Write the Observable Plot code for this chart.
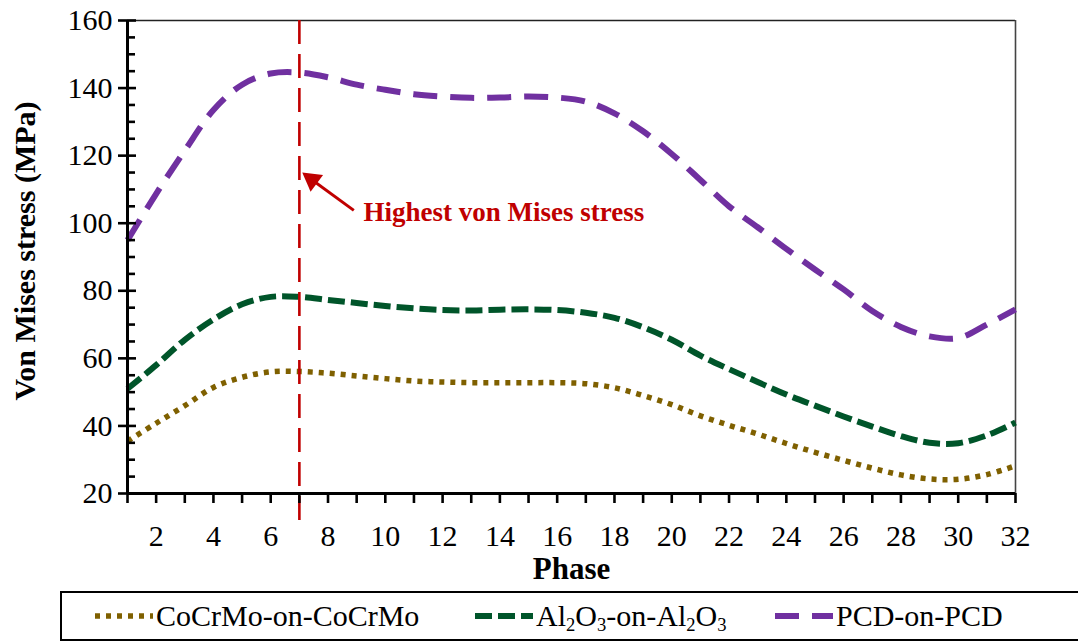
<!DOCTYPE html>
<html>
<head>
<meta charset="utf-8">
<script src="https://cdn.jsdelivr.net/npm/d3@7"></script>
<script src="https://cdn.jsdelivr.net/npm/@observablehq/plot@0.6"></script>
<style>
  html, body { margin: 0; padding: 0; background: #fff; overflow: hidden; }
  body { width: 1078px; height: 641px; position: relative; font-family: "Liberation Serif", "Times New Roman", serif; }
  #legend {
    position: absolute; left: 60px; top: 591px; width: 1040px; height: 46px;
    border: 2px solid #000; box-sizing: content-box; font-size: 30px; color: #000;
  }
  .item { position: absolute; top: 0; height: 46px; display: flex; align-items: center; white-space: nowrap; }
  .item svg { margin-right: 3px; }
  sub { font-size: 0.62em; vertical-align: -0.25em; line-height: 0; }
</style>
</head>
<body>
<div id="chart"></div>
<div id="legend"></div>
<script>
// ---- data ----
const phases = d3.range(1, 33);
const cocrmo = [35.5, 40.8, 46.0, 51.4, 54.4, 56.0, 56.1, 55.6, 54.8, 54.0, 53.3, 53.0, 52.8, 52.8, 52.8, 52.8,
                52.5, 51.3, 49.0, 46.3, 43.0, 40.2, 37.6, 34.8, 32.2, 29.8, 27.5, 25.5, 24.3, 24.2, 25.6, 28.2];
const al2o3  = [51.0, 58.0, 65.5, 71.5, 76.0, 78.2, 78.2, 77.3, 76.4, 75.5, 74.8, 74.3, 74.2, 74.4, 74.5, 74.3,
                73.5, 72.0, 69.2, 65.5, 60.8, 56.8, 53.0, 49.3, 46.0, 42.8, 39.8, 37.0, 35.0, 34.9, 37.2, 41.0];
const pcd    = [95.0, 108.7, 121.5, 133.5, 141.0, 144.3, 144.6, 143.2, 141.0, 139.5, 138.2, 137.5, 137.1, 137.2, 137.5, 137.2,
                136.0, 132.5, 127.2, 120.5, 112.8, 105.0, 98.8, 92.4, 86.3, 80.4, 74.0, 69.3, 66.5, 66.0, 70.0, 74.5];
const seriesNames = ["CoCrMo-on-CoCrMo", "Al2O3-on-Al2O3", "PCD-on-PCD"];
const yTicks = [20, 40, 60, 80, 100, 120, 140, 160];
const xTicks = [2, 4, 6, 8, 10, 12, 14, 16, 18, 20, 22, 24, 26, 28, 30, 32];
const peakPhase = 7;
const annotationText = "Highest von Mises stress";
const arrowTail = {x: 8.9, y: 103.8};
const arrowTip = {x: 7, y: 115.6};
const labelPos = {x: 9.24, y: 103.2};

const styles = {
  "CoCrMo-on-CoCrMo": {color: "#7F6000", dash: "5,6", width: 5.5},
  "Al2O3-on-Al2O3": {color: "#00552A", dash: "17,6", width: 6},
  "PCD-on-PCD": {color: "#7030A0", dash: "24,13", width: 6}
};
const values = [cocrmo, al2o3, pcd];
const rows = seriesNames.map((s, k) => phases.map((p, i) => ({series: s, phase: p, value: values[k][i]})));

const minorY = d3.range(25, 160, 5).filter(v => v % 20 !== 0);
const red = "#C00000";

// arrowhead orientation
const dirX = -54, dirY = -40;
const headRot = Math.atan2(dirY, dirX) * 180 / Math.PI + 90;

const chart = Plot.plot({
  width: 1078,
  height: 588,
  marginLeft: 127,
  marginRight: 63,
  marginTop: 20,
  marginBottom: 95,
  style: {fontFamily: "Liberation Serif, Times New Roman, serif", fontSize: "30px", color: "#000", background: "#fff", overflow: "visible"},
  x: {domain: [1, 32]},
  y: {domain: [20, 160]},
  marks: [
    // frame (top and right thin lines)
    Plot.ruleY([160], {stroke: "#222", strokeWidth: 1.3}),
    Plot.ruleX([32], {stroke: "#444", strokeWidth: 1.6}),
    // series
    ...rows.map((r, k) => Plot.line(r, {
      x: "phase", y: "value", curve: "catmull-rom",
      stroke: styles[seriesNames[k]].color,
      strokeWidth: styles[seriesNames[k]].width,
      strokeDasharray: styles[seriesNames[k]].dash,
      strokeLinecap: "butt"
    })),
    // highlight line
    Plot.ruleX([peakPhase], {y1: 160, y2: 10.5, stroke: red, strokeWidth: 2.6, strokeDasharray: "24,10"}),
    // arrow
    Plot.link([0], {x1: arrowTail.x, y1: arrowTail.y, x2: arrowTip.x + 0.4, y2: arrowTip.y - 2.5, stroke: red, strokeWidth: 3}),
    Plot.dot([0], {x: arrowTip.x + 0.44, y: arrowTip.y - 2.75, symbol: "triangle2", r: 10, fill: red, stroke: "none", rotate: headRot}),
    Plot.text([annotationText], {x: labelPos.x, y: labelPos.y, textAnchor: "start", fill: red, fontWeight: "bold", fontSize: 27}),
    // axes
    Plot.axisY({ticks: yTicks, tickSize: 9, tickPadding: 6, strokeWidth: 2.6, label: null, fontSize: 30}),
    Plot.axisY({ticks: yTicks, tickSize: 9, dx: 9, tickFormat: () => "", strokeWidth: 2.6, label: null}),
    Plot.axisY({ticks: minorY, tickSize: 8, dx: 8, tickFormat: () => "", strokeWidth: 2.6, label: null}),
    Plot.axisX({ticks: phases, tickSize: 10, tickPadding: 21, strokeWidth: 2.6, label: null, fontSize: 30,
                tickFormat: d => xTicks.includes(d) ? String(d) : ""}),
    Plot.ruleX([1], {strokeWidth: 3}),
    Plot.ruleY([20], {strokeWidth: 3}),
    // axis titles
    Plot.text(["Phase"], {frameAnchor: "bottom", lineAnchor: "middle", dy: 76, fontWeight: "bold", fontSize: 31}),
    Plot.text(["Von Mises stress (MPa)"], {frameAnchor: "left", textAnchor: "middle", lineAnchor: "middle", dx: -102, dy: -6, rotate: -90, fontWeight: "bold", fontSize: 30})
  ]
});
document.getElementById("chart").appendChild(chart);

// legend
const legendItems = [
  {name: "CoCrMo-on-CoCrMo", html: "CoCrMo-on-CoCrMo", left: 33},
  {name: "Al2O3-on-Al2O3", html: "Al<sub>2</sub>O<sub>3</sub>-on-Al<sub>2</sub>O<sub>3</sub>", left: 413},
  {name: "PCD-on-PCD", html: "PCD-on-PCD", left: 713}
];
const legend = document.getElementById("legend");
legendItems.forEach(it => {
  const st = styles[it.name];
  const div = document.createElement("div");
  div.className = "item";
  div.style.left = it.left + "px";
  div.innerHTML = `<svg width="58" height="10"><line x1="0" y1="5" x2="58" y2="5" stroke="${st.color}" stroke-width="${st.width}" stroke-dasharray="${st.dash}"/></svg><span>${it.html}</span>`;
  legend.appendChild(div);
});
</script>
</body>
</html>
